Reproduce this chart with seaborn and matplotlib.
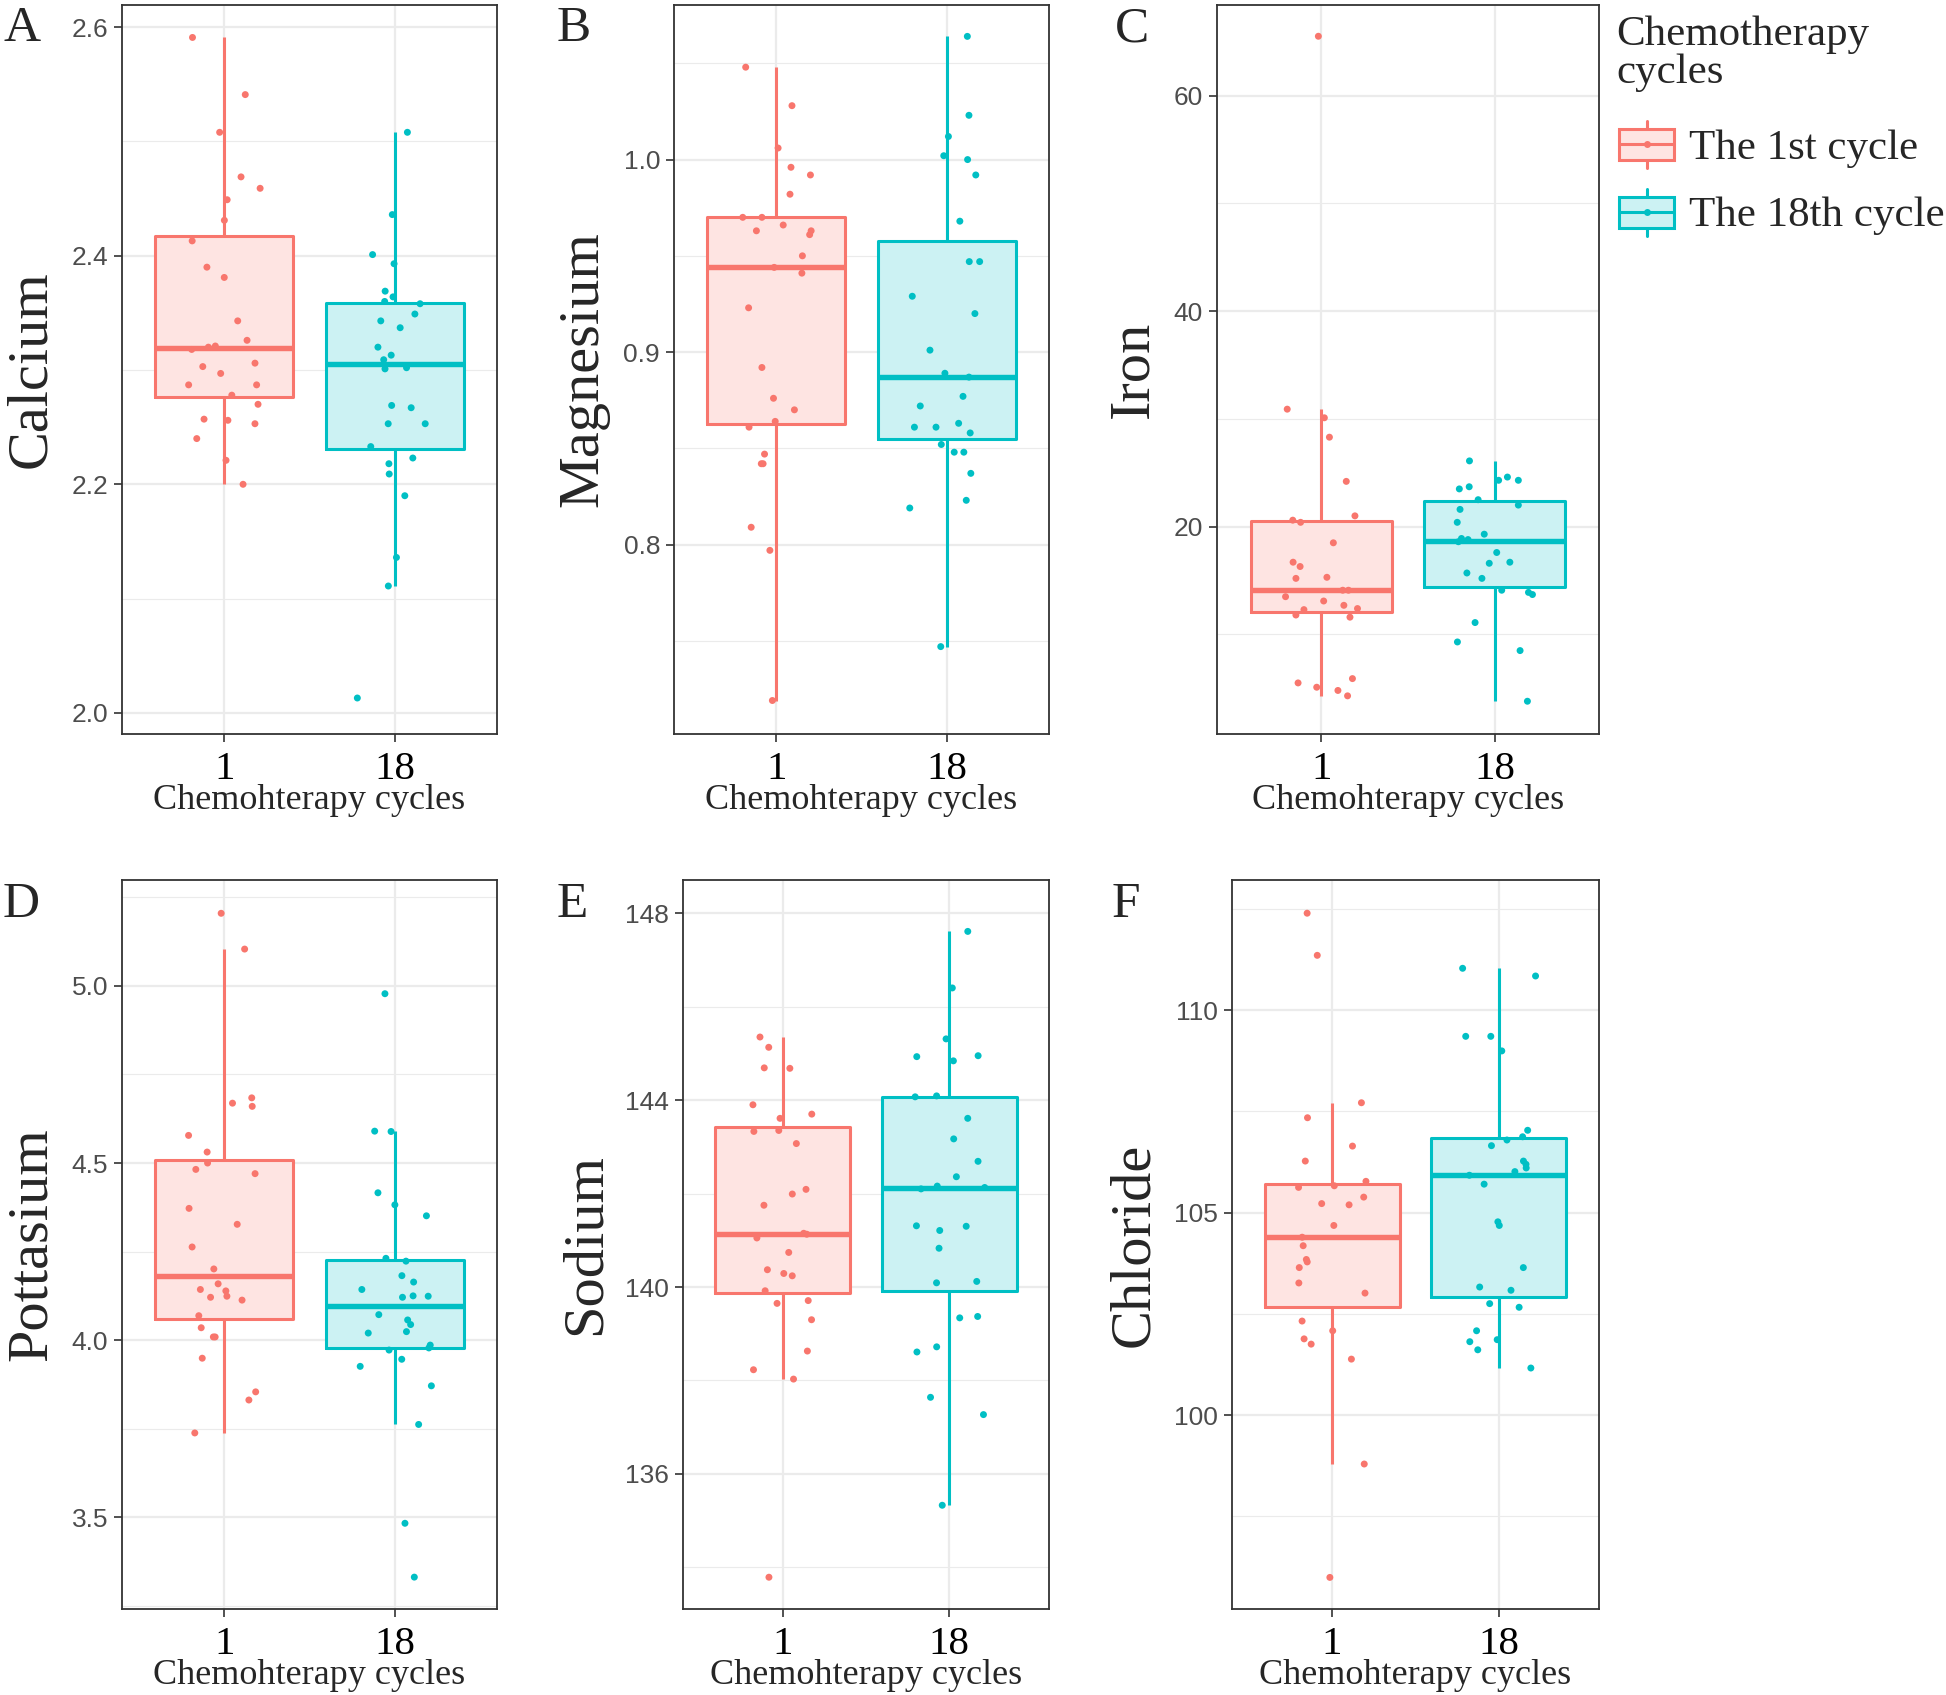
import numpy as np
import pandas as pd
import matplotlib
matplotlib.use('Agg')
import matplotlib.pyplot as plt
import seaborn as sns
from matplotlib.patches import Patch, Rectangle
from matplotlib.lines import Line2D
from matplotlib.legend_handler import HandlerBase
from matplotlib.ticker import MultipleLocator, FormatStrFormatter

cycles = ['1', '18']
legend_labels = ['The 1st cycle', 'The 18th cycle']

calcium_c1 = [2.591, 2.541, 2.508, 2.469, 2.459, 2.449, 2.431, 2.413, 2.390, 2.381, 2.343, 2.326, 2.321, 2.318,
              2.320, 2.306, 2.303, 2.297, 2.287, 2.287, 2.278, 2.270, 2.257, 2.256, 2.253, 2.240, 2.221, 2.200]
calcium_c18 = [2.508, 2.436, 2.401, 2.393, 2.369, 2.364, 2.360, 2.358, 2.349, 2.343, 2.337, 2.320, 2.313, 2.309,
               2.302, 2.301, 2.269, 2.267, 2.253, 2.253, 2.233, 2.223, 2.218, 2.209, 2.190, 2.136, 2.111, 2.013]

magnesium_c1 = [1.048, 1.028, 1.006, 0.996, 0.992, 0.982, 0.970, 0.970, 0.966, 0.963, 0.963, 0.961, 0.950, 0.944,
                0.941, 0.923, 0.892, 0.876, 0.870, 0.864, 0.861, 0.847, 0.842, 0.842, 0.809, 0.797, 0.719]
magnesium_c18 = [1.064, 1.023, 1.012, 1.002, 1.000, 0.992, 0.968, 0.947, 0.947, 0.929, 0.920, 0.901, 0.889, 0.887,
                 0.877, 0.872, 0.863, 0.861, 0.861, 0.858, 0.852, 0.848, 0.848, 0.837, 0.823, 0.819, 0.747]

iron_c1 = [65.5, 30.9, 30.1, 28.3, 24.2, 21.0, 20.6, 20.4, 18.5, 16.7, 16.3, 15.3, 15.2, 14.1,
           14.1, 13.5, 13.1, 12.7, 12.4, 12.3, 11.8, 11.6, 5.9, 5.5, 5.1, 4.8, 4.3]
iron_c18 = [26.1, 24.6, 24.3, 24.3, 23.7, 23.5, 22.5, 22.0, 21.6, 20.4, 19.3, 18.9, 18.8, 18.6,
            17.6, 16.7, 16.6, 15.7, 15.2, 14.1, 13.9, 13.7, 11.1, 9.3, 8.5, 3.8]

potassium_c1 = [5.205, 5.104, 4.684, 4.669, 4.660, 4.578, 4.531, 4.500, 4.482, 4.470, 4.372, 4.327, 4.263, 4.201,
                4.159, 4.143, 4.139, 4.124, 4.121, 4.113, 4.069, 4.035, 4.009, 4.009, 3.949, 3.854, 3.831, 3.738]
potassium_c18 = [4.978, 4.590, 4.589, 4.416, 4.382, 4.351, 4.231, 4.223, 4.182, 4.164, 4.143, 4.125, 4.124, 4.121,
                 4.072, 4.057, 4.044, 4.024, 4.020, 3.986, 3.978, 3.972, 3.946, 3.926, 3.871, 3.762, 3.483, 3.331]

sodium_c1 = [145.35, 145.13, 144.69, 144.68, 143.90, 143.70, 143.61, 143.35, 143.33, 143.07, 142.09, 141.99, 141.75,
             141.15, 141.05, 141.13, 140.74, 140.37, 140.29, 140.24, 139.92, 139.71, 139.65, 139.30, 138.63, 138.23,
             138.03, 133.79]
sodium_c18 = [147.61, 146.40, 145.31, 144.95, 144.93, 144.84, 144.09, 144.07, 143.61, 143.17, 142.69, 142.36, 142.16,
              142.13, 142.10, 141.31, 141.30, 141.21, 140.83, 140.12, 140.09, 139.37, 139.34, 138.72, 138.61, 137.64,
              137.27, 135.33]

chloride_c1 = [112.39, 111.35, 107.71, 107.34, 106.64, 106.27, 105.77, 105.66, 105.62, 105.38, 105.22, 105.19, 104.68,
               104.39, 104.18, 103.84, 103.78, 103.64, 103.26, 103.01, 102.32, 102.08, 101.88, 101.75, 101.38, 98.79,
               95.99]
chloride_c18 = [111.03, 110.84, 109.35, 109.35, 108.99, 107.03, 106.87, 106.79, 106.65, 106.27, 106.19, 106.10, 106.01,
                105.92, 105.70, 104.77, 104.68, 103.64, 103.16, 103.08, 102.75, 102.66, 102.08, 101.86, 101.81, 101.61,
                101.16]

RED, TEAL = '#F8766D', '#00BFC4'
RED_FILL, TEAL_FILL = '#FEE4E2', '#CCF2F3'

# letter, label, data, major step, tick format, ylim, axes box in px (left, top, right, bottom), letter pos
panels = [
    ('A', 'Calcium', calcium_c1, calcium_c18, 0.2, '%.1f', (1.9815, 2.6194), (122, 5, 497, 734), (3, 41)),
    ('B', 'Magnesium', magnesium_c1, magnesium_c18, 0.1, '%.1f', (0.7016, 1.0803), (674, 5, 1049, 734), (557, 41)),
    ('C', 'Iron', iron_c1, iron_c18, 20, '%d', (0.76, 68.4), (1217, 5, 1599, 734), (1115, 41)),
    ('D', 'Pottasium', potassium_c1, potassium_c18, 0.5, '%.1f', (3.241, 5.299), (122, 880, 497, 1609), (3, 917)),
    ('E', 'Sodium', sodium_c1, sodium_c18, 4, '%d', (133.11, 148.71), (683, 880, 1049, 1609), (557, 917)),
    ('F', 'Chloride', chloride_c1, chloride_c18, 5, '%d', (95.21, 113.21), (1232, 880, 1599, 1609), (1112, 917)),
]

sns.set_theme(style='white')
plt.rcParams['font.family'] = ['Liberation Serif', 'DejaVu Serif']
plt.rcParams['axes.edgecolor'] = '#333333'

W, H = 1946, 1695
fig = plt.figure(figsize=(W / 100, H / 100), dpi=100)
np.random.seed(7)

LW = 2.2


class BoxKey(HandlerBase):
    def create_artists(self, legend, orig_handle, xdescent, ydescent, width, height, fontsize, trans):
        edge = orig_handle.get_edgecolor()
        face = orig_handle.get_facecolor()
        x0, y0 = -xdescent, -ydescent
        cx, cy = x0 + width / 2, y0 + height / 2
        bh = height * 0.66
        box = Rectangle((x0, cy - bh / 2), width, bh, facecolor=face, edgecolor=edge, lw=LW, transform=trans)
        up = Line2D([cx, cx], [cy + bh / 2, y0 + height], color=edge, lw=LW, transform=trans)
        lo = Line2D([cx, cx], [y0, cy - bh / 2], color=edge, lw=LW, transform=trans)
        med = Line2D([x0, x0 + width], [cy, cy], color=edge, lw=LW, transform=trans)
        dot = Line2D([cx], [cy], marker='o', ms=5, mew=0, color=edge, transform=trans)
        return [box, up, lo, med, dot]


for letter, name, v1, v18, step, fmt, ylim, (l, t, r, b), (lx, ly) in panels:
    df = pd.DataFrame({'cycle': ['1'] * len(v1) + ['18'] * len(v18), 'value': v1 + v18})
    ax = fig.add_axes([l / W, 1 - b / H, (r - l) / W, (b - t) / H])

    sns.boxplot(data=df, x='cycle', y='value', hue='cycle', order=cycles, hue_order=cycles,
                palette=[RED_FILL, TEAL_FILL], saturation=1, width=0.81, linewidth=0,
                showfliers=False, showcaps=False, legend=False, ax=ax)
    sns.boxplot(data=df, x='cycle', y='value', hue='cycle', order=cycles, hue_order=cycles,
                palette=[RED, TEAL], saturation=1, fill=False, width=0.81, linewidth=LW,
                showfliers=False, showcaps=False, medianprops={'linewidth': 3.9}, legend=False, ax=ax)
    sns.stripplot(data=df, x='cycle', y='value', hue='cycle', order=cycles, hue_order=cycles,
                  palette=[RED, TEAL], jitter=0.22, size=5, linewidth=0, legend=False, ax=ax, zorder=4)

    ax.set_xlim(-0.6, 1.6)
    ax.set_ylim(*ylim)
    ax.yaxis.set_major_locator(MultipleLocator(step))
    ax.yaxis.set_minor_locator(MultipleLocator(step / 2))
    ax.yaxis.set_major_formatter(FormatStrFormatter(fmt))
    ax.set_axisbelow(True)
    ax.yaxis.grid(True, which='major', color='#EBEBEB', lw=1.6)
    ax.yaxis.grid(True, which='minor', color='#EBEBEB', lw=0.8)
    ax.xaxis.grid(True, which='major', color='#EBEBEB', lw=1.6)
    for sp in ax.spines.values():
        sp.set_color('#333333')
        sp.set_linewidth(1.3)

    ax.tick_params(axis='both', which='major', length=6, width=1.2, color='#333333', bottom=True, left=True)
    ax.tick_params(axis='y', which='minor', length=0)
    ax.tick_params(axis='y', labelfontfamily='Liberation Sans', labelsize=19, labelcolor='#4D4D4D', pad=4)
    ax.tick_params(axis='x', labelsize=29.5, labelcolor='black', pad=6.3)
    ax.set_xlabel('Chemohterapy cycles', fontsize=26, labelpad=-3)
    ax.set_ylabel(name, fontsize=42, labelpad=10)

    fig.text(lx / W, 1 - ly / H, letter, fontsize=37, va='baseline', ha='left')

# multi-line text: the baseline given is the one of the last line
fig.text(1616 / W, 1 - 83 / H, 'Chemotherapy\ncycles', fontsize=31, va='baseline', ha='left', linespacing=1.0)

handles = [Patch(facecolor=RED_FILL, edgecolor=RED), Patch(facecolor=TEAL_FILL, edgecolor=TEAL)]
leg = fig.legend(handles, legend_labels, loc='upper left', bbox_to_anchor=(1619 / W, 1 - 121 / H),
                 frameon=False, fontsize=31, handler_map={Patch: BoxKey()}, handlelength=1.28,
                 handleheight=1.3, handletextpad=0.35, labelspacing=0.48, borderpad=0, borderaxespad=0)

fig.savefig('out.png', dpi=100)
